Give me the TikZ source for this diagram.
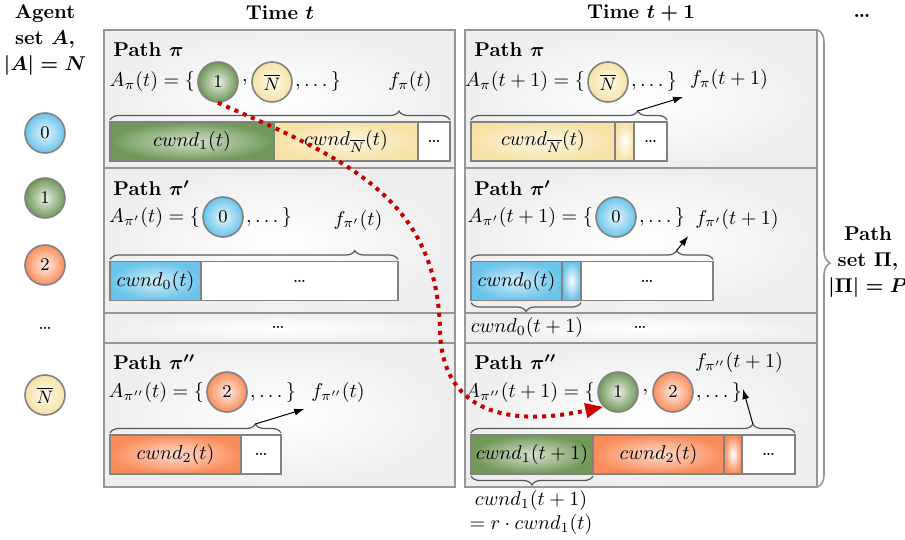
\documentclass[tikz,border=0pt]{standalone}
\usepackage{amsmath}
\usepackage{amsfonts}
\usepackage{tikz}
\usetikzlibrary{positioning, calc, arrows.meta, decorations.pathreplacing}

\definecolor{edgegray}{RGB}{130,130,130}
\definecolor{panelgray}{RGB}{150,150,150}
\definecolor{panelfill}{RGB}{238,238,238}
\definecolor{agtgreen}{RGB}{112,152,88}
\definecolor{agtyellow}{RGB}{246,226,165}
\definecolor{agtblue}{RGB}{105,195,235}
\definecolor{agtorange}{RGB}{250,140,90}
\definecolor{flowred}{RGB}{200,0,0}

\tikzset{
  head/.style={font=\bfseries, align=center},
  title/.style={anchor=west, font=\bfseries, inner sep=0pt},
  panel/.style={draw=panelgray, line width=0.9pt, inner color=white, outer color=panelfill},
  agent/.style={circle, draw=edgegray, line width=0.8pt, minimum size=20pt, inner sep=0pt,
    inner color=#1!15!white, outer color=#1, font=\small},
  seg/.style={draw=edgegray, line width=0.8pt, minimum height=19.5pt, minimum width=#1*0.5pt,
    inner sep=0pt, outer sep=0pt},
  full/.style={inner color=#1!30!white, outer color=#1},
  sliver/.style={inner color=white, outer color=#1},
  brc/.style={decorate, decoration={brace, amplitude=4.5pt, aspect=#1, raise=1pt},
    draw=black!65, line width=0.6pt},
  bigbrc/.style={decorate, decoration={brace, amplitude=6pt, aspect=0.51},
    draw=panelgray, line width=0.8pt},
  farrow/.style={-{Latex[length=5pt,width=3.5pt]}, line width=0.5pt},
  flow/.style={draw=flowred, line width=2pt, dash pattern=on 2pt off 2.5pt,
    -{Triangle[length=9pt,width=7pt]}}
}

\begin{document}
\begin{tikzpicture}[x=0.5pt, y=-0.5pt]
\useasboundingbox (0,0) rectangle (905,540);

\foreach \xa/\xb in {104/455, 465/817}
  \foreach \ya/\yb in {30/168, 168/313, 313/343, 343/487}
    \draw[panel] (\xa,\ya) rectangle (\xb,\yb);

\node[head] (agenthd) at (45,40) {Agent\\[1pt] set $\boldsymbol{A}$,\\[1pt] $\boldsymbol{|A| = N}$};
\foreach \n/\c/\y in {0/agtblue/133, 1/agtgreen/198, 2/agtorange/265}
  \node[agent=\c] (ag\n) at (45,\y) {\n};
\node (agdots) at (45,328) {\ldots};
\node[agent=agtyellow] (agN) at (45,395) {$\overline{N}$};

\node[head] (timeL) at (280,13) {Time $\boldsymbol{t}$};
\node[head] (timeR) at (641,13) {Time $\boldsymbol{t+1}$};
\node[head] (timedots) at (862,16) {\ldots};
\node[head] (pathset) at (868,262) {Path\\[1pt] set $\boldsymbol{\Pi}$,\\[1pt] $\boldsymbol{|\Pi| = P}$};
\coordinate (pstop) at (818,30);
\coordinate (psbot) at (818,487);
\draw[bigbrc] (pstop) -- (psbot);

\foreach \col/\x in {L/113, R/474} {
  \node[title] (tt\col1) at (\x,50) {Path $\boldsymbol{\pi}$};
  \node[title] (tt\col2) at (\x,188) {Path $\boldsymbol{\pi'}$};
  \node[title] (tt\col4) at (\x,362) {Path $\boldsymbol{\pi''}$};
}

% path pi, time t
\node[agent=agtgreen] (cL1a) at (218,82) {1};
\node[agent=agtyellow] (cL1b) at (272,82) {$\overline{N}$};
\node[left=0pt of cL1a, inner sep=1pt] (aL1) {$A_{\pi}(t) = \{$};
\node[inner sep=0pt] (kL1) at ($(cL1a)!0.5!(cL1b)$) {,};
\node[right=0pt of cL1b, inner sep=1pt] (eL1) {$, \ldots\,\}$};
\node (fL1) at (410,82) {$f_{\pi}(t)$};
\node[seg=164, full=agtgreen, anchor=west] (sL1a) at (110,141.5) {$cwnd_1(t)$};
\node[seg=144, full=agtyellow, right=0pt of sL1a] (sL1b) {$cwnd_{\overline{N}}(t)$};
\node[seg=32, fill=white, right=0pt of sL1b] (sL1c) {\ldots};
\draw[brc=0.85] (sL1a.north west) -- (sL1c.north east);

% path pi, time t+1
\node[agent=agtyellow] (cR1a) at (608,82) {$\overline{N}$};
\node[left=0pt of cR1a, inner sep=1pt] (aR1) {$A_{\pi}(t+1) = \{$};
\node[right=0pt of cR1a, inner sep=1pt] (eR1) {$, \ldots\,\}$};
\node (fR1) at (729,80) {$f_{\pi}(t+1)$};
\node[seg=144, full=agtyellow, anchor=west] (sR1a) at (471,141.5) {$cwnd_{\overline{N}}(t)$};
\node[seg=19, sliver=agtyellow, right=0pt of sR1a] (sR1b) {};
\node[seg=33, fill=white, right=0pt of sR1b] (sR1c) {\ldots};
\draw[brc=0.85] (sR1a.north west) -- (sR1c.north east);
\coordinate (bR1) at ($(sR1a.north west)!0.85!(sR1c.north east)+(0pt,5.5pt)$);
\draw[farrow] (bR1) -- (fR1.south west);

% path pi', time t
\node[agent=agtblue] (cL2a) at (223,217) {0};
\node[left=0pt of cL2a, inner sep=1pt] (aL2) {$A_{\pi'}(t) = \{$};
\node[right=0pt of cL2a, inner sep=1pt] (eL2) {$, \ldots\,\}$};
\node (fL2) at (358,220) {$f_{\pi'}(t)$};
\node[seg=91, full=agtblue, anchor=west] (sL2a) at (110,281) {$cwnd_0(t)$};
\node[seg=197, fill=white, right=0pt of sL2a] (sL2b) {\ldots};
\draw[brc=0.85] (sL2a.north west) -- (sL2b.north east);

% path pi', time t+1
\node[agent=agtblue] (cR2a) at (616,217) {0};
\node[left=0pt of cR2a, inner sep=1pt] (aR2) {$A_{\pi'}(t+1) = \{$};
\node[right=0pt of cR2a, inner sep=1pt] (eR2) {$, \ldots\,\}$};
\node (fR2) at (737,219) {$f_{\pi'}(t+1)$};
\node[seg=91, full=agtblue, anchor=west] (sR2a) at (471,281) {$cwnd_0(t)$};
\node[seg=19, sliver=agtblue, right=0pt of sR2a] (sR2b) {};
\node[seg=132, fill=white, right=0pt of sR2b] (sR2c) {\ldots};
\draw[brc=0.85] (sR2a.north west) -- (sR2c.north east);
\coordinate (bR2) at ($(sR2a.north west)!0.85!(sR2c.north east)+(0pt,5.5pt)$);
\draw[farrow] (bR2) -- (fR2.south west);
\draw[brc=0.5] (sR2b.south east) -- (sR2a.south west);

\node (dL3) at (278,327) {\ldots};
\node (nR3) at (527,327) {$cwnd_0(t+1)$};
\node (dR3) at (640,327) {\ldots};

% path pi'', time t
\node[agent=agtorange] (cL4a) at (227,392) {2};
\node[left=0pt of cL4a, inner sep=1pt] (aL4) {$A_{\pi''}(t) = \{$};
\node[right=0pt of cL4a, inner sep=1pt] (eL4) {$, \ldots\,\}$};
\node (fL4) at (338,392) {$f_{\pi''}(t)$};
\node[seg=131, full=agtorange, anchor=west] (sL4a) at (110,454.5) {$cwnd_2(t)$};
\node[seg=40, fill=white, right=0pt of sL4a] (sL4b) {\ldots};
\draw[brc=0.85] (sL4a.north west) -- (sL4b.north east);
\coordinate (bL4) at ($(sL4a.north west)!0.85!(sL4b.north east)+(0pt,5.5pt)$);
\draw[farrow] (bL4) -- (fL4.south west);

% path pi'', time t+1
\node[agent=agtgreen] (cR4a) at (618,392) {1};
\node[agent=agtorange] (cR4b) at (673,392) {2};
\node[left=0pt of cR4a, inner sep=1pt] (aR4) {$A_{\pi''}(t+1) = \{$};
\node[inner sep=0pt] (kR4) at ($(cR4a)!0.5!(cR4b)$) {,};
\node[right=0pt of cR4b, inner sep=1pt] (eR4) {$, \ldots\,\}$};
\node (fR4) at (739,362) {$f_{\pi''}(t+1)$};
\node[seg=122, full=agtgreen, anchor=west] (sR4a) at (471,454.5) {$cwnd_1(t+1)$};
\node[seg=131, full=agtorange, right=0pt of sR4a] (sR4b) {$cwnd_2(t)$};
\node[seg=18, sliver=agtorange, right=0pt of sR4b] (sR4c) {};
\node[seg=53, fill=white, right=0pt of sR4c] (sR4d) {\ldots};
\draw[brc=0.87] (sR4a.north west) -- (sR4d.north east);
\coordinate (bR4) at ($(sR4a.north west)!0.87!(sR4d.north east)+(0pt,5.5pt)$);
\draw[farrow] (bR4) -- ($(fR4.south)+(2pt,-5pt)$);
\draw[brc=0.5] (sR4a.south east) -- (sR4a.south west);
\node[align=center] (nR4) at (531,512) {$cwnd_1(t+1)$\\ $= r \cdot cwnd_1(t)$};

\coordinate (via) at (440,330);
\draw[flow] (cL1a.south) .. controls (350,160) and (437,200) .. (via)
  .. controls (442,420) and (520,425) .. (cR4a.south west);
\end{tikzpicture}
\end{document}
